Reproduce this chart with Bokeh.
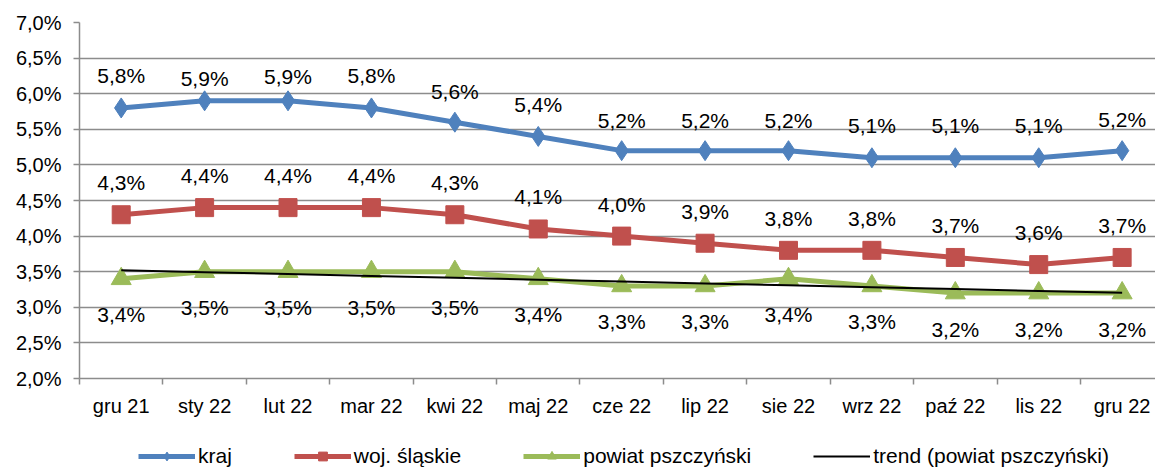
from bokeh.plotting import figure
from bokeh.layouts import column
from bokeh.models import (ColumnDataSource, FixedTicker, Legend, LegendItem)
from bokeh.core.properties import value
from bokeh.embed import file_html
from bokeh.resources import INLINE
import numpy as np

months = ["gru 21", "sty 22", "lut 22", "mar 22", "kwi 22", "maj 22", "cze 22",
          "lip 22", "sie 22", "wrz 22", "paź 22", "lis 22", "gru 22"]
kraj = [5.8, 5.9, 5.9, 5.8, 5.6, 5.4, 5.2, 5.2, 5.2, 5.1, 5.1, 5.1, 5.2]
slaskie = [4.3, 4.4, 4.4, 4.4, 4.3, 4.1, 4.0, 3.9, 3.8, 3.8, 3.7, 3.6, 3.7]
powiat = [3.4, 3.5, 3.5, 3.5, 3.5, 3.4, 3.3, 3.3, 3.4, 3.3, 3.2, 3.2, 3.2]
y_ticks = [2.0, 2.5, 3.0, 3.5, 4.0, 4.5, 5.0, 5.5, 6.0, 6.5, 7.0]
series_names = ["kraj", "woj. śląskie", "powiat pszczyński", "trend (powiat pszczyński)"]

# label placement (pixels, style only)
kraj_label_dy = [-32, -22, -24, -32, -31, -32, -30, -30, -30, -32, -32, -32, -31]

FONT = "Liberation Sans"
xs = list(range(len(months)))

def fmt(v):
    return f"{v:.1f}%".replace(".", ",")

# linear trend of powiat series (least squares)
coef = np.polyfit(xs, powiat, 1)
trend = [float(coef[0] * x + coef[1]) for x in xs]

p = figure(width=1155, height=425, output_backend="svg", toolbar_location=None,
           x_range=(-0.5, 12.4), y_range=(2.0, 7.0),
           min_border_left=79, min_border_right=0, min_border_top=22,
           min_border_bottom=47)
p.outline_line_color = None
p.background_fill_color = "white"
p.xgrid.grid_line_color = None
p.ygrid.grid_line_color = "#8c8c8c"
p.ygrid.grid_line_width = 1.5

p.yaxis.ticker = FixedTicker(ticks=y_ticks)
p.yaxis.major_label_overrides = {t: fmt(t) for t in y_ticks}
p.xaxis.ticker = FixedTicker(ticks=xs, minor_ticks=[x - 0.5 for x in xs] + [12.5])
p.xaxis.major_label_overrides = {i: m for i, m in enumerate(months)}
for ax in (p.xaxis, p.yaxis):
    ax.axis_line_color = "#8c8c8c"
    ax.axis_line_width = 1.5
    ax.major_label_text_font = FONT
    ax.major_label_text_font_size = "20px"
    ax.major_label_text_color = "black"
    ax.major_tick_line_color = "#8c8c8c"
    ax.major_tick_line_width = 1.5
    ax.minor_tick_line_color = "#8c8c8c"
    ax.minor_tick_line_width = 1.5
p.yaxis.major_tick_out = 6
p.yaxis.major_tick_in = 0
p.yaxis.minor_tick_line_color = None
p.yaxis.major_label_standoff = 12
p.xaxis.major_tick_line_color = None
p.xaxis.minor_tick_out = 6
p.xaxis.minor_tick_in = 0
p.xaxis.major_label_standoff = 10

src = ColumnDataSource(dict(x=xs, kraj=kraj, sl=slaskie, pw=powiat, tr=trend,
                            lk=[fmt(v) for v in kraj],
                            ls=[fmt(v) for v in slaskie],
                            lp=[fmt(v) for v in powiat],
                            kdy=kraj_label_dy))

c_k, c_s, c_p = "#4F81BD", "#C0504D", "#9BBB59"

p.line("x", "kraj", source=src, line_color=c_k, line_width=5)
p.scatter("x", "kraj", source=src, marker="diamond", size=20, color=c_k)
p.line("x", "sl", source=src, line_color=c_s, line_width=5)
p.scatter("x", "sl", source=src, marker="square", size=18, color=c_s)
p.line("x", "pw", source=src, line_color=c_p, line_width=5)
p.scatter("x", "pw", source=src, marker="triangle", size=20, color=c_p)
p.line("x", "tr", source=src, line_color="black", line_width=2)

common = dict(text_font=value(FONT), text_font_size="21px", text_color="black",
              text_align="center", text_baseline="middle")
p.text("x", "kraj", text="lk", source=src, y_offset="kdy", **common)
p.text("x", "sl", text="ls", source=src, y_offset=-32, **common)
p.text("x", "pw", text="lp", source=src, y_offset=36, **common)

# legend strip below the chart: the same series drawn out of view, used only as legend glyphs
lf = figure(width=1155, height=43, output_backend="svg", toolbar_location=None,
            x_axis_type=None, y_axis_type=None, min_border=0,
            x_range=(1000, 1001), y_range=(1000, 1001))
lf.outline_line_color = None
lf.xgrid.grid_line_color = None
lf.ygrid.grid_line_color = None
g1 = [lf.line("x", "kraj", source=src, line_color=c_k, line_width=5),
      lf.scatter("x", "kraj", source=src, marker="diamond", size=13, color=c_k)]
g2 = [lf.line("x", "sl", source=src, line_color=c_s, line_width=5),
      lf.scatter("x", "sl", source=src, marker="square", size=12, color=c_s)]
g3 = [lf.line("x", "pw", source=src, line_color=c_p, line_width=5),
      lf.scatter("x", "pw", source=src, marker="triangle", size=12, color=c_p)]
g4 = [lf.line("x", "tr", source=src, line_color="black", line_width=2)]

legend = Legend(items=[LegendItem(label=n, renderers=r)
                       for n, r in zip(series_names, [g1, g2, g3, g4])],
                orientation="horizontal", location=(59, 0),
                label_text_font=FONT, label_text_font_size="21px", label_text_color="black",
                glyph_width=57, glyph_height=22, label_height=22, spacing=62,
                label_standoff=3, border_line_color=None, background_fill_alpha=0,
                padding=0, margin=0)
lf.add_layout(legend, "center")

layout = column(p, lf, spacing=0)
open("out.html", "w").write(file_html(layout, INLINE))
